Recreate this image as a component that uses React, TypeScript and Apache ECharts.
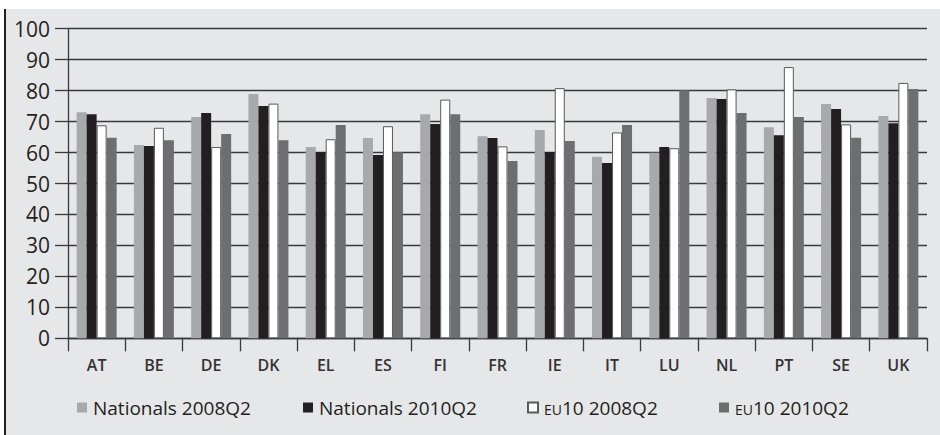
import React, { useEffect, useRef } from "react";
import * as echarts from "echarts";

const categories = ["AT", "BE", "DE", "DK", "EL", "ES", "FI", "FR", "IE", "IT", "LU", "NL", "PT", "SE", "UK"];
const nationals2008 = [73.0, 62.4, 71.5, 78.9, 61.8, 64.7, 72.4, 65.3, 67.3, 58.6, 59.9, 77.6, 68.2, 75.7, 71.8];
const nationals2010 = [72.4, 62.1, 72.8, 75.0, 60.1, 59.2, 69.2, 64.7, 60.2, 56.6, 61.8, 77.3, 65.6, 74.1, 69.5];
const eu10_2008 = [68.8, 68.0, 61.8, 75.8, 64.3, 68.5, 77.1, 62.0, 80.8, 66.5, 61.4, 80.4, 87.6, 69.1, 82.5];
const eu10_2010 = [64.8, 64.0, 66.0, 64.0, 68.9, 60.1, 72.4, 57.3, 63.7, 68.9, 80.1, 72.8, 71.5, 64.8, 80.5];
const yTicks = [0, 10, 20, 30, 40, 50, 60, 70, 80, 90, 100];

const seriesNames = ["Nationals 2008Q2", "Nationals 2010Q2", "EU10 2008Q2", "EU10 2010Q2"];
const seriesData = [nationals2008, nationals2010, eu10_2008, eu10_2010];
const seriesColors = ["#a7a9ac", "#231f20", "#ffffff", "#6d6e71"];
const legendLeft = [77, 303, 527, 719];

const FONT = "'Open Sans', 'Noto Sans', sans-serif";

export default function App() {
  const ref = useRef<HTMLDivElement>(null);
  useEffect(() => {
    if (!ref.current) return;
    const chart = echarts.init(ref.current, undefined, { renderer: "svg" });
    const option: any = {
      animation: false,
      backgroundColor: "#ffffff",
      textStyle: { fontFamily: FONT },
      graphic: [
        { type: "rect", shape: { x: 6, y: 9, width: 934, height: 426 }, style: { fill: "#e6e7e8" }, z: -10, silent: true },
        { type: "rect", shape: { x: 4, y: 9, width: 2, height: 426 }, style: { fill: "#231f20" }, z: -10, silent: true },
      ],
      grid: { left: 68, right: 13, top: 28.7, bottom: 96.7, containLabel: false },
      legend: seriesNames.map((n, i) => ({
        data: [n],
        left: legendLeft[i],
        top: 398,
        padding: 0,
        itemWidth: 10,
        itemHeight: 10,
        itemGap: 0,
        icon: "rect",
        selectedMode: false,
        formatter: (name: string) =>
          name.startsWith("EU") ? "{sc|EU}{n|" + name.slice(2) + "}" : "{n|" + name + "}",
        textStyle: {
          fontFamily: FONT,
          color: "#231f20",
          fontSize: 19,
          padding: [0, 0, 0, 1],
          rich: {
            n: { fontFamily: FONT, fontSize: 19, color: "#231f20" },
            sc: { fontFamily: FONT, fontSize: 14, color: "#231f20", padding: [3, 0, 0, 0] },
          },
        },
      })),
      xAxis: {
        type: "category",
        data: categories,
        axisLine: { show: true, lineStyle: { color: "#3a3a3c", width: 1.3 } },
        axisTick: { show: true, alignWithLabel: false, length: 13, lineStyle: { color: "#3a3a3c", width: 1.3 } },
        axisLabel: { fontFamily: FONT, fontSize: 16, fontWeight: 600, color: "#333335", margin: 19 },
        splitLine: { show: false },
      },
      yAxis: {
        type: "value",
        min: yTicks[0],
        max: yTicks[yTicks.length - 1],
        interval: 10,
        axisLine: { show: true, lineStyle: { color: "#3a3a3c", width: 1.3 } },
        axisTick: { show: true, length: 13, lineStyle: { color: "#3a3a3c", width: 1.3 } },
        axisLabel: { fontFamily: FONT, fontSize: 21, color: "#231f20", margin: 18 },
        splitLine: { show: true, lineStyle: { color: "#3a3a3c", width: 1.3 } },
      },
      series: seriesNames.map((n, i) => ({
        name: n,
        type: "bar",
        data: seriesData[i],
        barWidth: 10,
        barGap: "0%",
        itemStyle:
          i === 2
            ? { color: seriesColors[i], borderColor: "#58595b", borderWidth: 1 }
            : { color: seriesColors[i], borderWidth: 0 },
      })),
    };
    chart.setOption(option);
    return () => chart.dispose();
  }, []);
  return (
    <div
      ref={ref}
      style={{ position: "fixed", left: 0, top: 0, width: 940, height: 435 }}
    />
  );
}
